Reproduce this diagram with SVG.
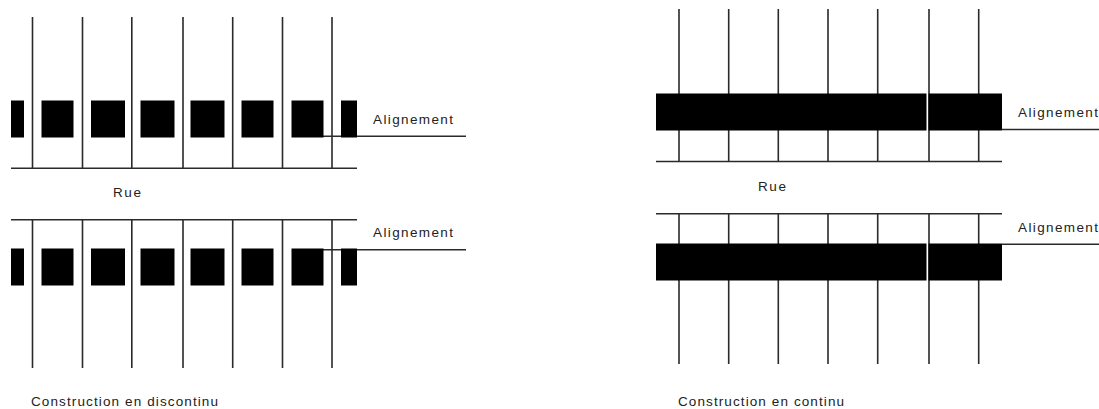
<svg xmlns="http://www.w3.org/2000/svg" width="1099" height="409" viewBox="0 0 1099 409">
<style>
.l{stroke:#2a2a2a;stroke-width:1.6;fill:none}
.b{fill:#000}
text{font-family:"Liberation Sans",Arial,sans-serif;font-size:13.500px;fill:#222}
</style>
<rect width="1099" height="409" fill="#fff"/>
<g id="connectors">
<path class="l" d="M32.500 17V168M82.500 17V168M131.800 17V168M183 17V168M232.700 17V168M282.500 17V168M332 17V168M11 168.300H357M323 136.300H466"/>
<path class="l" d="M32.500 220V368M82.500 220V368M131.800 220V368M183 220V368M232.700 220V368M282.500 220V368M332 220V368M11 219.700H357M323 249.700H466"/>
<path class="l" d="M679 9V161M728.700 9V161M778.300 9V161M828 9V161M877.700 9V161M929 9V161M978.700 9V161M656 161.500H1002M1002 129.500H1099"/>
<path class="l" d="M679 214V364M728.700 214V364M778.300 214V364M828 214V364M877.700 214V364M929 214V364M978.700 214V364M656 213.700H1002M1002 244.300H1099"/>
</g>
<g id="discontinu-haut">
<rect class="b" x="11" y="100.500" width="13" height="37"/><rect class="b" x="41.500" y="100.500" width="32" height="37"/><rect class="b" x="91" y="100.500" width="34" height="37"/><rect class="b" x="140.500" y="100.500" width="34" height="37"/><rect class="b" x="190.500" y="100.500" width="34" height="37"/><rect class="b" x="241.500" y="100.500" width="32" height="37"/><rect class="b" x="291.500" y="100.500" width="32" height="37"/><rect class="b" x="341" y="100.500" width="16" height="37"/>
</g>
<g id="discontinu-bas">
<rect class="b" x="11" y="248.500" width="13" height="37"/><rect class="b" x="41.500" y="248.500" width="32" height="37"/><rect class="b" x="91" y="248.500" width="34" height="37"/><rect class="b" x="140.500" y="248.500" width="34" height="37"/><rect class="b" x="190.500" y="248.500" width="34" height="37"/><rect class="b" x="241.500" y="248.500" width="32" height="37"/><rect class="b" x="291.500" y="248.500" width="32" height="37"/><rect class="b" x="341" y="248.500" width="16" height="37"/>
</g>
<g id="continu-haut">
<rect class="b" x="656" y="93.500" width="270.500" height="37"/><rect class="b" x="928.500" y="93.500" width="73.500" height="37"/>
</g>
<g id="continu-bas">
<rect class="b" x="656" y="243.500" width="270.500" height="37"/><rect class="b" x="928.500" y="243.500" width="73.500" height="37"/>
</g>
<g id="labels">
<text x="373" y="124" textLength="80" lengthAdjust="spacing">Alignement</text>
<text x="373" y="237" textLength="80" lengthAdjust="spacing">Alignement</text>
<text x="113" y="197" textLength="28" lengthAdjust="spacing">Rue</text>
<text x="31" y="406" textLength="187" lengthAdjust="spacing">Construction en discontinu</text>
<text x="1018" y="117" textLength="80" lengthAdjust="spacing">Alignement</text>
<text x="1018" y="231.500" textLength="80" lengthAdjust="spacing">Alignement</text>
<text x="758" y="191" textLength="28" lengthAdjust="spacing">Rue</text>
<text x="678" y="405.500" textLength="166" lengthAdjust="spacing">Construction en continu</text>
</g>
</svg>
